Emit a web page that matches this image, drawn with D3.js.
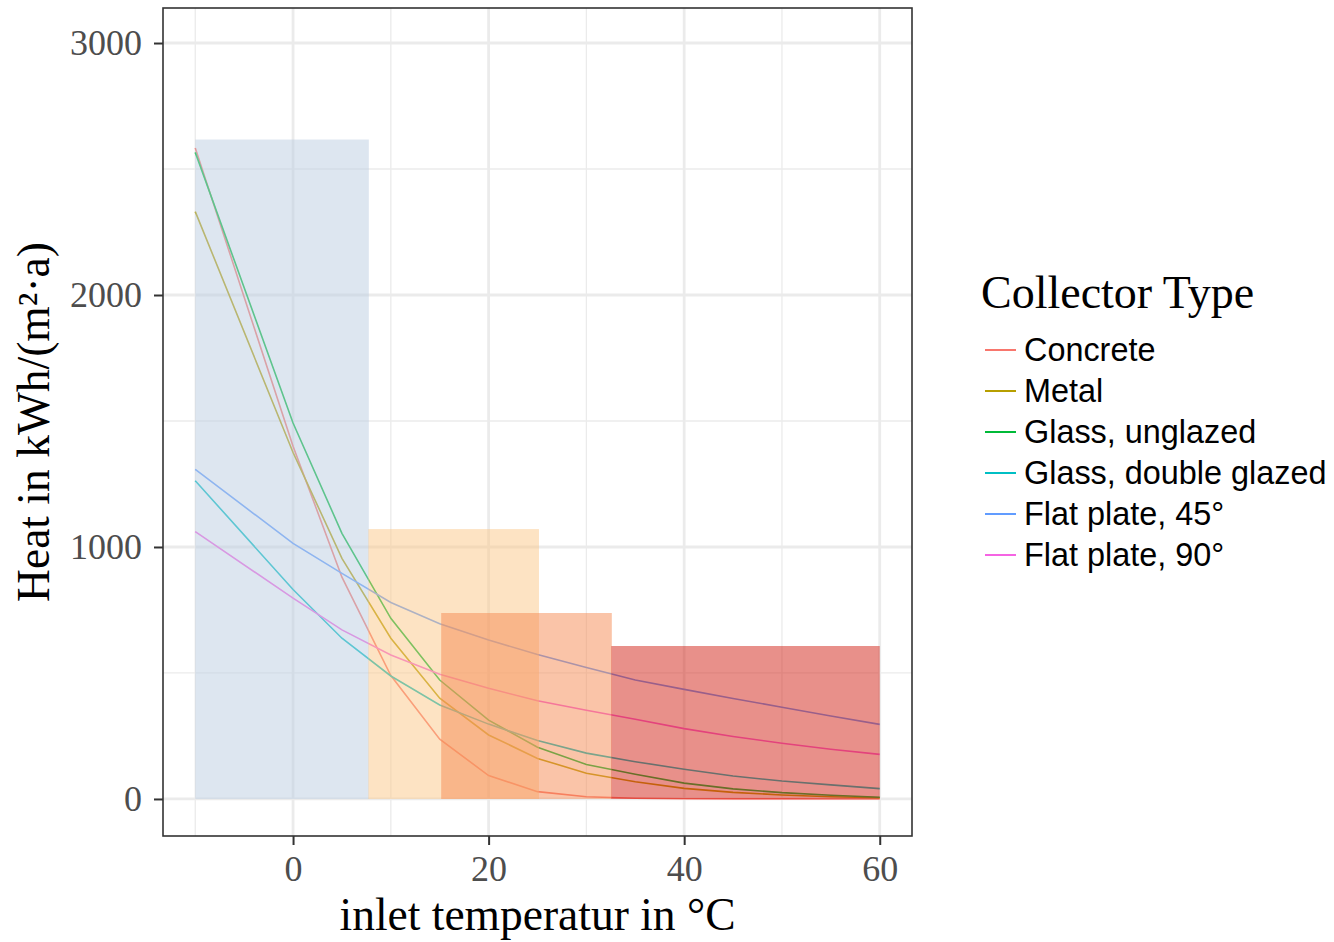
<!DOCTYPE html>
<html>
<head>
<meta charset="utf-8">
<script src="https://cdn.jsdelivr.net/npm/d3@7"></script>
<style>
  html, body { margin: 0; padding: 0; background: #fff; }
  svg { display: block; }
</style>
</head>
<body>
<svg id="chart" width="1334" height="942"></svg>
<script>
// ---- data ----
const temps = [-10, 0, 5, 10, 15, 20, 25, 30, 35, 40, 45, 50, 55, 60];
const seriesNames = ["Concrete", "Metal", "Glass, unglazed", "Glass, double glazed", "Flat plate, 45°", "Flat plate, 90°"];
const concrete      = [2583, 1400, 880, 490, 237, 93, 29, 9, 3, 1, 0.5, 0.2, 0.1, 0];
const metal         = [2331, 1375, 955, 638, 400, 254, 161, 102, 68, 42, 26, 16, 9, 5];
const glassUnglazed = [2566, 1492, 1054, 717, 472, 313, 205, 137, 98, 63, 40, 25, 15, 7];
const glassDouble   = [1263, 831, 638, 488, 373, 297, 232, 182, 148, 118, 91, 71, 56, 41];
const flat45        = [1308, 1014, 895, 780, 695, 631, 573, 522, 472, 435, 399, 364, 329, 296];
const flat90        = [1061, 797, 671, 571, 495, 439, 390, 352, 316, 279, 248, 221, 197, 177];
const seriesValues = [concrete, metal, glassUnglazed, glassDouble, flat45, flat90];

const binStart  = [-10, 7.7, 15.15, 32.55];
const binEnd    = [7.75, 25.15, 32.6, 60];
const binHeight = [2617, 1071, 738, 607];

const xTicks = [0, 20, 40, 60];
const xMinor = [-10, 10, 30, 50];
const yTicks = [0, 1000, 2000, 3000];
const yMinor = [500, 1500, 2500];

// ---- styles ----
const lineColors = ["#F8766D", "#B79F00", "#00BA38", "#00BFC4", "#619CFF", "#F564E3"];
const binColors = ["#bbcde1", "#fbc787", "#f58951", "#d12115"];
const binOpacity = 0.5;

const svg = d3.select("#chart");
const panel = { left: 163, right: 912, top: 8, bottom: 836 };

const x = d3.scaleLinear().domain([-13.3, 63.3]).range([panel.left, panel.right]);
const y = d3.scaleLinear().domain([-147, 3139]).range([panel.bottom, panel.top]);

// gridlines
const g = svg.append("g");
g.selectAll(".xminor").data(xMinor).enter().append("line")
  .attr("x1", d => x(d)).attr("x2", d => x(d))
  .attr("y1", panel.top).attr("y2", panel.bottom)
  .attr("stroke", "#ebebeb").attr("stroke-width", 1.3);
g.selectAll(".yminor").data(yMinor).enter().append("line")
  .attr("y1", d => y(d)).attr("y2", d => y(d))
  .attr("x1", panel.left).attr("x2", panel.right)
  .attr("stroke", "#ebebeb").attr("stroke-width", 1.3);
g.selectAll(".xmajor").data(xTicks).enter().append("line")
  .attr("x1", d => x(d)).attr("x2", d => x(d))
  .attr("y1", panel.top).attr("y2", panel.bottom)
  .attr("stroke", "#ebebeb").attr("stroke-width", 2.8);
g.selectAll(".ymajor").data(yTicks).enter().append("line")
  .attr("y1", d => y(d)).attr("y2", d => y(d))
  .attr("x1", panel.left).attr("x2", panel.right)
  .attr("stroke", "#ebebeb").attr("stroke-width", 2.8);

// lines
const lineGen = d3.line().x((d, i) => x(temps[i])).y(d => y(d));
svg.append("g").selectAll("path").data(seriesValues).enter().append("path")
  .attr("d", d => lineGen(d))
  .attr("fill", "none")
  .attr("stroke", (d, i) => lineColors[i])
  .attr("stroke-width", 1.6);

// bins (drawn above lines)
svg.append("g").selectAll("rect").data(binStart).enter().append("rect")
  .attr("x", (d, i) => x(binStart[i]))
  .attr("width", (d, i) => x(binEnd[i]) - x(binStart[i]))
  .attr("y", (d, i) => y(binHeight[i]))
  .attr("height", (d, i) => y(0) - y(binHeight[i]))
  .attr("fill", (d, i) => binColors[i])
  .attr("fill-opacity", binOpacity);

// panel border
svg.append("rect")
  .attr("x", panel.left).attr("y", panel.top)
  .attr("width", panel.right - panel.left).attr("height", panel.bottom - panel.top)
  .attr("fill", "none").attr("stroke", "#333").attr("stroke-width", 1.6);

// axes
const xAxis = d3.axisBottom(x).tickValues(xTicks).tickSize(9).tickPadding(10).tickFormat(d3.format("d"));
const xa = svg.append("g").attr("transform", `translate(0,${panel.bottom})`).call(xAxis);
xa.select(".domain").remove();
xa.selectAll(".tick line").attr("stroke", "#333").attr("stroke-width", 2);
xa.selectAll(".tick text").attr("fill", "#4d4d4d")
  .style("font-family", "'Liberation Serif', 'Times New Roman', serif").style("font-size", "36px");

const yAxis = d3.axisLeft(y).tickValues(yTicks).tickSize(9).tickPadding(12).tickFormat(d3.format("d"));
const ya = svg.append("g").attr("transform", `translate(${panel.left},0)`).call(yAxis);
ya.select(".domain").remove();
ya.selectAll(".tick line").attr("stroke", "#333").attr("stroke-width", 2);
ya.selectAll(".tick text").attr("fill", "#4d4d4d")
  .style("font-family", "'Liberation Serif', 'Times New Roman', serif").style("font-size", "36px");

// axis titles
svg.append("text")
  .attr("x", (panel.left + panel.right) / 2).attr("y", 930)
  .attr("text-anchor", "middle")
  .style("font-family", "'Liberation Serif', 'Times New Roman', serif").style("font-size", "45.5px")
  .text("inlet temperatur in °C");

svg.append("text")
  .attr("transform", `translate(49,${(panel.top + panel.bottom) / 2}) rotate(-90)`)
  .attr("text-anchor", "middle")
  .style("font-family", "'Liberation Serif', 'Times New Roman', serif").style("font-size", "45.5px")
  .text("Heat in kWh/(m²·a)");

// legend
svg.append("text")
  .attr("x", 981).attr("y", 308)
  .style("font-family", "'Liberation Serif', 'Times New Roman', serif").style("font-size", "46px")
  .text("Collector Type");

const leg = svg.append("g").selectAll("g").data(seriesNames).enter().append("g")
  .attr("transform", (d, i) => `translate(0,${350 + i * 41})`);
leg.append("line").attr("x1", 985).attr("x2", 1016).attr("y1", 0).attr("y2", 0)
  .attr("stroke", (d, i) => lineColors[i]).attr("stroke-width", 2);
leg.append("text").attr("x", 1024).attr("y", 11)
  .style("font-family", "'Liberation Sans', Arial, sans-serif").style("font-size", "32.4px")
  .text(d => d);
</script>
</body>
</html>
